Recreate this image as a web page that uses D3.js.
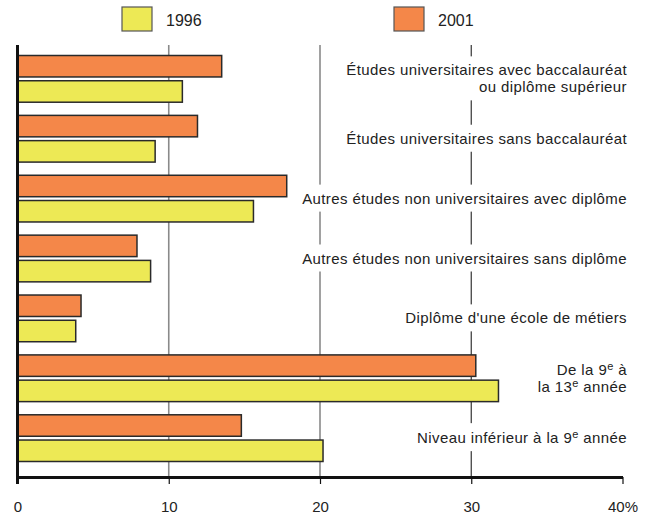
<!DOCTYPE html>
<html>
<head>
<meta charset="utf-8">
<script src="https://cdn.jsdelivr.net/npm/d3@7"></script>
<style>
body { margin:0; background:#fff; }
svg text { font-family: "Liberation Sans", Arial, sans-serif; fill:#222; }
</style>
</head>
<body>
<svg id="chart"></svg>
<script>
// categories, each label split in lines; "^" marks a superscript part
var categories = ["univBac","univSans","autresAvec","autresSans","metiers","neuvTreize","inferieur"];
var labels = [
    ["Études universitaires avec baccalauréat","ou diplôme supérieur"],
    ["Études universitaires sans baccalauréat"],
    ["Autres études non universitaires avec diplôme "],
    ["Autres études non universitaires sans diplôme"],
    ["Diplôme d'une école de métiers"],
    ["De la 9^e^ à","la 13^e^ année"],
    ["Niveau inférieur à la 9^e^ année"]
];
var years = ["2001","1996"];
var values2001 = [13.5, 11.9, 17.8, 7.9, 4.2, 30.3, 14.8];
var values1996 = [10.9, 9.1, 15.6, 8.8, 3.85, 31.8, 20.2];
var ticks = [0,10,20,30,40];
var tickLabels = ["0","10","20","30","40%"];
var colors = {"1996":"#ede955","2001":"#f48749"};

var screen = {width:653, height:516};
var svg = d3.select("#chart")
    .attr("width",screen.width)
    .attr("height",screen.height);

var xScale = d3.scaleLinear()
    .domain([0,40])
    .range([17.5,622.5]);

var yScale = d3.scaleBand()
    .domain(categories)
    .range([55.5,461.5])
    .paddingInner(0.22)
    .paddingOuter(0);

var subScale = d3.scaleBand()
    .domain(years)
    .range([0,yScale.bandwidth()])
    .paddingInner(0.15);

var axisTop = 45, axisY = 477;

// gridlines
svg.append("g").selectAll("line")
    .data([10,20,30])
    .enter()
    .append("line")
    .attr("x1",function(d){return xScale(d);})
    .attr("x2",function(d){return xScale(d);})
    .attr("y1",axisTop)
    .attr("y2",axisY)
    .attr("stroke",function(d){return d==30 ? "#333" : "#8a8a8a";})
    .attr("stroke-width",function(d){return d==30 ? 1.2 : 1.6;});

// category labels with white box hiding the gridline
var labelG = svg.append("g");
labels.forEach(function(lines,i)
{
    var cy = yScale(categories[i]) + yScale.bandwidth()/2;
    var g = labelG.append("g");
    var bg = g.append("rect").attr("fill","#fff");
    var text = g.append("text")
        .attr("text-anchor","end")
        .attr("font-size",15)
        .attr("letter-spacing",0.4);
    var lh = 17;
    var y0 = cy - (lines.length-1)*lh/2 + 5;
    lines.forEach(function(line,j)
    {
        var t = text.append("tspan")
            .attr("x",627)
            .attr("y",y0 + j*lh);
        var parts = line.split("^");
        parts.forEach(function(p,k)
        {
            if(p === "") return;
            var s = t.append("tspan").text(p);
            if(k % 2 == 1)
            {
                s.attr("font-size",11).attr("dy",-5);
            }
            else if(k > 0)
            {
                s.attr("dy",5);
            }
        });
    });
    var b = text.node().getBBox();
    bg.attr("x",b.x-4).attr("y",b.y-5)
      .attr("width",b.width+8).attr("height",b.height+10);
});

// bars
var groups = svg.append("g").selectAll("g")
    .data(categories)
    .enter()
    .append("g")
    .attr("transform",function(c){return "translate(0,"+yScale(c)+")";});

groups.selectAll("rect")
    .data(function(c,i){
        return [{year:"2001",value:values2001[i]},{year:"1996",value:values1996[i]}];
    })
    .enter()
    .append("rect")
    .attr("x",xScale(0))
    .attr("y",function(d){return subScale(d.year);})
    .attr("width",function(d){return xScale(d.value)-xScale(0);})
    .attr("height",subScale.bandwidth())
    .attr("fill",function(d){return colors[d.year];})
    .attr("stroke","#2a2a2a")
    .attr("stroke-width",1.5);

// bottom axis
var xAxis = d3.axisBottom(xScale)
    .tickValues(ticks)
    .tickSize(7)
    .tickSizeOuter(0)
    .tickFormat(function(d,i){return tickLabels[i];});

var ax = svg.append("g")
    .attr("transform","translate(0,"+axisY+")")
    .call(xAxis);
ax.select(".domain").attr("stroke","#111").attr("stroke-width",3);
ax.selectAll(".tick line").attr("stroke","#111").attr("stroke-width",1.2);
ax.selectAll(".tick text")
    .attr("font-size",15)
    .attr("font-family","Liberation Sans, Arial, sans-serif")
    .attr("fill","#222")
    .attr("dy","1.65em");

// left axis line
svg.append("line")
    .attr("x1",xScale(0)).attr("x2",xScale(0))
    .attr("y1",axisTop).attr("y2",axisY+7)
    .attr("stroke","#111")
    .attr("stroke-width",3);

// legend
var legendItems = [{year:"1996",x:122},{year:"2001",x:394}];
var legend = svg.append("g").selectAll("g")
    .data(legendItems)
    .enter()
    .append("g")
    .attr("transform",function(d){return "translate("+d.x+",7)";});
legend.append("rect")
    .attr("width",30).attr("height",24)
    .attr("fill",function(d){return colors[d.year];})
    .attr("stroke","#555")
    .attr("stroke-width",1.2);
legend.append("text")
    .attr("x",44).attr("y",19)
    .attr("font-size",16)
    .text(function(d){return d.year;});
</script>
</body>
</html>
